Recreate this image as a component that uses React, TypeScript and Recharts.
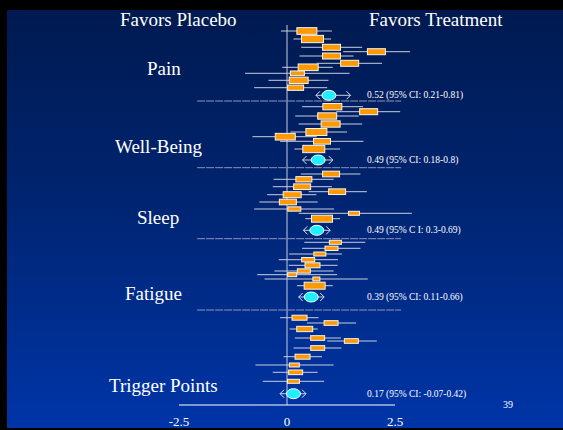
import { ScatterChart, Scatter, XAxis, YAxis, ErrorBar, ReferenceLine } from 'recharts';

// Row = [row position from top of plot, effect size, CI low, CI high, study weight]
type Row = [number, number, number, number, number];

const painStudies: Row[] = [
  [6, 0.46, -0.14, 1.04, 20],
  [14, 0.59, 0.15, 1.02, 22],
  [22.3, 1.03, 0.33, 1.74, 18],
  [26.7, 2.07, 1.3, 2.85, 18],
  [31, 1.03, 0.29, 1.54, 18],
  [38.3, 1.45, 0.69, 2.2, 18],
  [42.3, 0.49, -0.11, 1.06, 20],
  [48.3, 0.24, -0.97, 1.45, 14],
  [55.3, 0.27, -0.43, 0.96, 19],
  [62.7, 0.2, -0.76, 0.93, 16],
];

const wellBeingStudies: Row[] = [
  [81.7, 1.05, 0.35, 1.76, 19],
  [86.7, 1.89, 1.14, 2.62, 18],
  [91, 0.93, 0.19, 1.66, 19],
  [99, 1.01, 0.27, 1.74, 19],
  [107, 0.68, 0.08, 1.39, 21],
  [111.7, -0.04, -0.8, 0.69, 20],
  [116.3, 0.81, -0.16, 1.77, 17],
  [124, 0.62, 0.17, 1.23, 22],
];

const sleepStudies: Row[] = [
  [149, 1.02, 0.32, 1.7, 17],
  [154.3, 0.39, -0.31, 1.08, 16],
  [161.7, 0.35, -0.33, 1.04, 17],
  [166.7, 1.16, 0.5, 1.85, 17],
  [169.7, 0.12, -0.46, 0.68, 18],
  [177, 0.02, -0.64, 0.71, 17],
  [184, 0.17, -0.76, 1.09, 13],
  [188.3, 1.55, 0.27, 2.89, 11],
  [193.7, 0.81, 0.42, 1.23, 21],
];

const fatigueStudies: Row[] = [
  [217.3, 1.12, 0.4, 1.81, 12],
  [223.3, 1.03, 0.35, 1.7, 13],
  [229, 0.76, 0.05, 1.27, 12],
  [234.7, 0.49, -0.19, 1.18, 13],
  [240.3, 0.59, 0.04, 1.17, 15],
  [246, 0.39, -0.29, 1.08, 13],
  [249.7, 0.12, -0.69, 1.16, 9],
  [254, 0.68, -0.52, 1.87, 7],
  [260.7, 0.64, 0.23, 1.06, 21],
];

const triggerStudies: Row[] = [
  [292.7, 0.29, -0.16, 0.73, 15],
  [298, 1.02, 0.46, 1.6, 14],
  [304, 0.41, 0.06, 0.71, 16],
  [313, 0.71, 0.18, 1.25, 14],
  [316, 1.49, 0.93, 2.08, 14],
  [323, 0.71, 0.15, 1.26, 14],
  [331.7, 0.36, -0.08, 0.81, 15],
  [340, 0.17, -0.73, 1.08, 10],
  [347.3, 0.2, -0.33, 0.71, 14],
  [356.3, 0.15, -0.56, 0.86, 12],
];

// pooled estimate per outcome: [row position, estimate, arrow low, arrow high]
const summaryRows: [number, number, number, number][] = [
  [70.3, 0.97, 0.67, 1.47],
  [135, 0.72, 0.36, 1.06],
  [205.3, 0.69, 0.38, 1.0],
  [272, 0.56, 0.27, 0.86],
  [368.7, 0.15, -0.16, 0.44],
];

const summaryLabels = [
  '0.52 (95% CI: 0.21-0.81)',
  '0.49 (95% CI: 0.18-0.8)',
  '0.49 (95% C I: 0.3-0.69)',
  '0.39 (95% CI: 0.11-0.66)',
  '0.17 (95% CI: -0.07-0.42)',
];

const separatorRows = [76, 142.7, 213.7, 285];
const xTicks = [-2.5, 0, 2.5];

const FONT = '"Liberation Serif", "Times New Roman", serif';
const LABEL_X = 367;

const studies = [...painStudies, ...wellBeingStudies, ...sleepStudies, ...fatigueStudies, ...triggerStudies].map(
  ([y, est, lo, hi, weight]) => ({ x: est, y, err: [est - lo, hi - est], weight })
);
const summaries = summaryRows.map(([y, est, lo, hi], i) => ({
  x: est,
  y,
  err: [est - lo, hi - est],
  label: summaryLabels[i],
}));
const arrowLow = summaryRows.map(([y, , lo]) => ({ x: lo, y }));
const arrowHigh = summaryRows.map(([y, , , hi]) => ({ x: hi, y }));

const StudyBox = (props: any) => {
  const { cx, cy, payload } = props;
  const w = payload.weight;
  const h = Math.max(4, w / 3);
  return <rect x={cx - w / 2} y={cy - h / 2} width={w} height={h} fill="#ff9900" stroke="#f4f4f4" strokeWidth={1} />;
};

const SummaryOval = (props: any) => {
  const { cx, cy, payload } = props;
  return (
    <g>
      <ellipse cx={cx} cy={cy} rx={7} ry={5} fill="#1ff0ff" stroke="#ffffff" strokeWidth={1} />
      <text x={LABEL_X} y={cy + 3} fill="#ffffff" fontSize={9.5} fontFamily={FONT}>
        {payload.label}
      </text>
    </g>
  );
};

const LeftHead = ({ cx, cy }: any) => (
  <path d={`M${cx + 4},${cy - 4} L${cx},${cy} L${cx + 4},${cy + 4}`} stroke="#dde2ee" strokeWidth={1} fill="none" />
);
const RightHead = ({ cx, cy }: any) => (
  <path d={`M${cx - 4},${cy - 4} L${cx},${cy} L${cx - 4},${cy + 4}`} stroke="#dde2ee" strokeWidth={1} fill="none" />
);

const textStyle = { fill: '#ffffff', fontFamily: FONT };

export default function App() {
  return (
    <div style={{ position: 'absolute', left: 0, top: 0, width: 563, height: 430, background: '#000' }}>
      <div
        style={{
          position: 'absolute',
          left: 7,
          top: 10,
          width: 556,
          height: 418,
          background: 'linear-gradient(to bottom, #001a50 0%, #002470 45%, #0035a8 100%)',
        }}
      />
      <div style={{ position: 'absolute', left: 0, top: 0 }}>
        <ScatterChart width={563} height={430} margin={{ top: 25, right: 146.4, bottom: 0, left: 179 }}>
          <XAxis
            type="number"
            dataKey="x"
            domain={[-2.5, 3]}
            ticks={xTicks}
            axisLine={false}
            tickLine={false}
            tickSize={0}
            tickMargin={12}
            height={25}
            tick={{ fill: '#ffffff', fontSize: 13, fontFamily: FONT }}
          />
          <YAxis type="number" dataKey="y" domain={[0, 380]} reversed hide />
          <ReferenceLine segment={[{ x: 0, y: 0 }, { x: 0, y: 380 }]} stroke="#c4cbe0" strokeWidth={1} />
          {separatorRows.map((r) => (
            <ReferenceLine
              key={r}
              segment={[{ x: -2.08, y: r }, { x: 2.64, y: r }]}
              stroke="#8c96bc"
              strokeWidth={1}
              strokeDasharray="8 1"
            />
          ))}
          <ReferenceLine segment={[{ x: -2.5, y: 380 }, { x: 2.5, y: 380 }]} stroke="#ffffff" strokeWidth={1} />
          <Scatter data={studies} shape={<StudyBox />} isAnimationActive={false}>
            <ErrorBar dataKey="err" direction="x" width={0} stroke="#c8cede" strokeWidth={1} isAnimationActive={false} />
          </Scatter>
          <Scatter data={summaries} shape={<SummaryOval />} isAnimationActive={false}>
            <ErrorBar dataKey="err" direction="x" width={0} stroke="#c8cede" strokeWidth={1} isAnimationActive={false} />
          </Scatter>
          <Scatter data={arrowLow} shape={<LeftHead />} isAnimationActive={false} />
          <Scatter data={arrowHigh} shape={<RightHead />} isAnimationActive={false} />
        </ScatterChart>
      </div>
      <svg width={563} height={430} style={{ position: 'absolute', left: 0, top: 0, pointerEvents: 'none' }}>
        <text x={120} y={26} fontSize={19} style={textStyle}>Favors Placebo</text>
        <text x={369} y={26} fontSize={19} style={textStyle}>Favors Treatment</text>
        <text x={147} y={74.5} fontSize={19} style={textStyle}>Pain</text>
        <text x={115} y={153} fontSize={19} style={textStyle}>Well-Being</text>
        <text x={137} y={224} fontSize={19} style={textStyle}>Sleep</text>
        <text x={125} y={300} fontSize={19} style={textStyle}>Fatigue</text>
        <text x={109} y={392} fontSize={19} style={textStyle}>Trigger Points</text>
        <text x={508} y={408} fontSize={10} textAnchor="middle" style={textStyle}>39</text>
      </svg>
    </div>
  );
}
